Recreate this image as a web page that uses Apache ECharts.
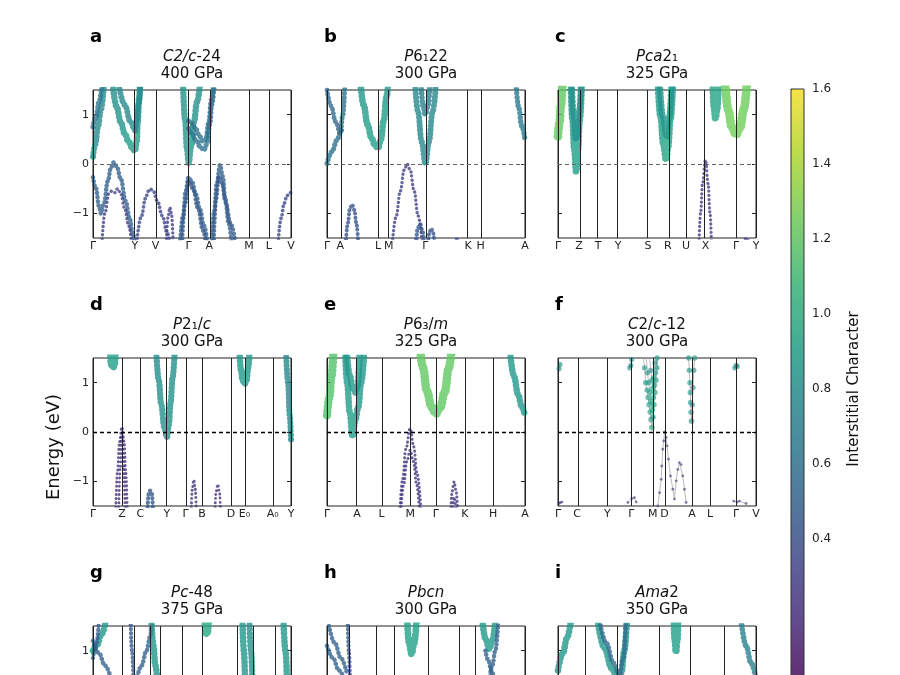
<!DOCTYPE html>
<html>
<head>
<meta charset="utf-8">
<script src="https://cdn.jsdelivr.net/npm/echarts@6/dist/echarts.min.js"></script>
<style>
  html, body { margin: 0; padding: 0; background: #fff; }
  #main { width: 900px; height: 675px; }
</style>
</head>
<body>
<div id="main"></div>
<script>
const FONT = 'DejaVu Sans'
const VIRIDIS = ['#440154', '#482878', '#3e4989', '#31688e', '#26828e', '#1f9e89', '#35b779', '#6ece58', '#b5de2b', '#fde725']
const CB_MIN = 0
const CB_MAX = 1.6
const CB_TICKS = [0.4, 0.6, 0.8, 1.0, 1.2, 1.4, 1.6]
const Y_TICKS = [-1, 0, 1]
const MARK_ALPHA = 0.8

// panel headings
const LETTERS = ['a', 'b', 'c', 'd', 'e', 'f', 'g', 'h', 'i']
const SPACE_GROUPS = [
  '{i|C2/c}{n|-24}', '{i|P}{n|6₁22}', '{i|Pca}{n|2₁}',
  '{i|P}{n|2₁/}{i|c}', '{i|P}{n|6₃/}{i|m}', '{i|C}{n|2/}{i|c}{n|-12}',
  '{i|Pc}{n|-48}', '{i|Pbcn}', '{i|Ama}{n|2}'
]
const PRESSURES = ['400 GPa', '300 GPa', '325 GPa', '300 GPa', '325 GPa', '300 GPa', '375 GPa', '300 GPa', '350 GPa']

// high-symmetry points (fraction of the k-path) and their labels
const KPOS_A = [0, 0.212, 0.316, 0.483, 0.587, 0.788, 0.888, 1]
const KLAB_A = ['Γ', 'Y', 'V', 'Γ', 'A', 'M', 'L', 'V']
const KPOS_B = [0, 0.067, 0.258, 0.312, 0.497, 0.713, 0.776, 1]
const KLAB_B = ['Γ', 'A', 'L', 'M', 'Γ', 'K', 'H', 'A']
const KPOS_C = [0, 0.106, 0.202, 0.303, 0.454, 0.555, 0.647, 0.745, 0.899, 1]
const KLAB_C = ['Γ', 'Z', 'T', 'Y', 'S', 'R', 'U', 'X', 'Γ', 'Y']
const KPOS_D = [0, 0.146, 0.239, 0.373, 0.467, 0.551, 0.697, 0.765, 0.908, 1]
const KLAB_D = ['Γ', 'Z', 'C', 'Y', 'Γ', 'B', 'D', 'E₀', 'A₀', 'Y']
const KPOS_E = [0, 0.151, 0.276, 0.42, 0.55, 0.696, 0.839, 1]
const KLAB_E = ['Γ', 'A', 'L', 'M', 'Γ', 'K', 'H', 'A']
const KPOS_F = [0, 0.096, 0.249, 0.37, 0.479, 0.538, 0.677, 0.768, 0.899, 1]
const KLAB_F = ['Γ', 'C', 'Y', 'Γ', 'M', 'D', 'A', 'L', 'Γ', 'V']
const KPOS_G = [0, 0.153, 0.213, 0.292, 0.344, 0.449, 0.546, 0.735, 0.809, 0.921, 1]
const KLAB_G = ['', '', '', '', '', '', '', '', '', '', '']
const KPOS_H = [0, 0.112, 0.247, 0.337, 0.512, 0.67, 0.753, 1]
const KLAB_H = ['', '', '', '', '', '', '', '']
const KPOS_I = [0, 0.135, 0.303, 0.506, 0.674, 0.843, 1]
const KLAB_I = ['', '', '', '', '', '', '']

// bands: [k, energy (eV), interstitial character]
const BANDS_A = [
  [[0, 0.15, 0.8], [0.012, 0.4, 0.8], [0.025, 0.75, 0.75], [0.04, 1.1, 0.75], [0.055, 1.6, 0.75]],
  [[0, 0.75, 0.6], [0.015, 0.95, 0.6], [0.03, 1.25, 0.65], [0.045, 1.6, 0.65]],
  [[0.1, 1.6, 0.8], [0.12, 1.15, 0.8], [0.14, 0.85, 0.82], [0.16, 0.62, 0.85], [0.18, 0.45, 0.88], [0.2, 0.31, 0.9], [0.212, 0.26, 0.9], [0.22, 0.45, 0.85], [0.226, 0.85, 0.8], [0.232, 1.3, 0.8], [0.237, 1.6, 0.8]],
  [[0.13, 1.6, 0.75], [0.16, 1.2, 0.75], [0.19, 0.85, 0.75], [0.212, 0.68, 0.75], [0.222, 0.9, 0.75], [0.23, 1.2, 0.75], [0.24, 1.6, 0.75]],
  [[0, -0.27, 0.5], [0.015, -0.5, 0.5], [0.03, -0.85, 0.5], [0.04, -1.0, 0.5], [0.055, -0.8, 0.5], [0.075, -0.35, 0.5], [0.09, -0.08, 0.5], [0.104, 0.03, 0.5], [0.12, -0.05, 0.5], [0.14, -0.3, 0.5], [0.165, -0.75, 0.5], [0.185, -1.1, 0.5], [0.2, -1.4, 0.5], [0.21, -1.6, 0.5]],
  [[0.045, -1.6, 0.3], [0.06, -1.0, 0.3], [0.08, -0.6, 0.3], [0.095, -0.55, 0.3], [0.11, -0.58, 0.3], [0.125, -0.5, 0.3], [0.14, -0.6, 0.3], [0.16, -0.9, 0.3], [0.18, -1.25, 0.3], [0.195, -1.6, 0.3]],
  [[0.22, -1.6, 0.35], [0.245, -1.05, 0.35], [0.265, -0.7, 0.35], [0.28, -0.55, 0.35], [0.29, -0.51, 0.35], [0.305, -0.55, 0.35], [0.325, -0.75, 0.35], [0.35, -1.05, 0.35], [0.375, -1.4, 0.35], [0.39, -1.6, 0.35]],
  [[0.37, -1.6, 0.3], [0.38, -1.05, 0.3], [0.388, -0.88, 0.3], [0.396, -1.0, 0.3], [0.405, -1.6, 0.3]],
  [[0.44, -1.6, 0.5], [0.455, -1.05, 0.5], [0.468, -0.55, 0.5], [0.483, -0.27, 0.5], [0.5, -0.36, 0.5], [0.52, -0.62, 0.5], [0.54, -0.92, 0.5], [0.56, -1.25, 0.5], [0.578, -1.6, 0.5]],
  [[0.45, -1.6, 0.45], [0.465, -0.8, 0.45], [0.483, -0.35, 0.45], [0.505, -0.5, 0.45], [0.53, -0.9, 0.45], [0.555, -1.35, 0.45], [0.57, -1.6, 0.45]],
  [[0.455, 1.6, 0.8], [0.465, 0.9, 0.8], [0.475, 0.3, 0.85], [0.483, 0.02, 0.9], [0.495, 0.35, 0.85], [0.51, 0.85, 0.8], [0.525, 1.25, 0.8], [0.54, 1.6, 0.8]],
  [[0.483, 0.87, 0.6], [0.5, 0.82, 0.6], [0.52, 0.7, 0.6], [0.54, 0.55, 0.6], [0.555, 0.45, 0.6], [0.57, 0.5, 0.6], [0.585, 0.85, 0.6], [0.598, 1.3, 0.6], [0.608, 1.6, 0.6]],
  [[0.483, 0.72, 0.6], [0.5, 0.62, 0.6], [0.52, 0.48, 0.6], [0.545, 0.33, 0.6], [0.56, 0.28, 0.6], [0.575, 0.4, 0.6], [0.59, 0.8, 0.6], [0.6, 1.2, 0.6], [0.612, 1.6, 0.6]],
  [[0.6, -1.6, 0.5], [0.612, -0.95, 0.5], [0.625, -0.4, 0.5], [0.642, -0.02, 0.5], [0.655, -0.25, 0.5], [0.668, -0.7, 0.5], [0.685, -1.2, 0.5], [0.7, -1.6, 0.5]],
  [[0.61, -1.6, 0.45], [0.622, -0.7, 0.45], [0.635, -0.25, 0.45], [0.65, -0.38, 0.45], [0.67, -0.78, 0.45], [0.695, -1.2, 0.45], [0.72, -1.6, 0.45]],
  [[0.935, -1.6, 0.35], [0.95, -1.1, 0.35], [0.965, -0.8, 0.35], [0.98, -0.64, 0.35], [1.0, -0.57, 0.35]]
]
const BANDS_B = [
  [[0, 1.5, 0.55], [0.02, 1.18, 0.55], [0.045, 0.85, 0.55], [0.067, 0.62, 0.55], [0.075, 0.7, 0.55]],
  [[0, 0.01, 0.65], [0.025, 0.25, 0.6], [0.05, 0.48, 0.6], [0.067, 0.62, 0.6], [0.08, 1.0, 0.6], [0.09, 1.6, 0.6]],
  [[0.168, 1.7, 0.85], [0.185, 1.2, 0.85], [0.205, 0.8, 0.87], [0.225, 0.52, 0.9], [0.243, 0.37, 0.9], [0.258, 0.32, 0.9], [0.272, 0.5, 0.88], [0.287, 0.9, 0.85], [0.3, 1.35, 0.85], [0.31, 1.7, 0.85]],
  [[0.33, -1.6, 0.3], [0.35, -1.05, 0.3], [0.37, -0.55, 0.3], [0.39, -0.12, 0.3], [0.405, 0.0, 0.3], [0.42, -0.12, 0.3], [0.44, -0.55, 0.3], [0.46, -1.05, 0.3], [0.48, -1.6, 0.3]],
  [[0.095, -1.6, 0.42], [0.105, -1.2, 0.42], [0.115, -0.92, 0.42], [0.126, -0.82, 0.42], [0.138, -0.93, 0.42], [0.148, -1.2, 0.42], [0.158, -1.6, 0.42]],
  [[0.445, 1.6, 0.75], [0.46, 1.05, 0.75], [0.478, 0.45, 0.75], [0.497, 0.0, 0.78], [0.515, 0.45, 0.75], [0.533, 1.05, 0.75], [0.55, 1.6, 0.75]],
  [[0.475, 1.6, 0.7], [0.487, 1.15, 0.7], [0.497, 1.0, 0.7], [0.507, 1.15, 0.7], [0.52, 1.6, 0.7]],
  [[0.45, -1.6, 0.45], [0.458, -1.3, 0.45], [0.47, -1.22, 0.45], [0.482, -1.35, 0.45], [0.49, -1.6, 0.45]],
  [[0.51, -1.6, 0.42], [0.518, -1.38, 0.42], [0.526, -1.31, 0.42], [0.535, -1.38, 0.42], [0.543, -1.6, 0.42]],
  [[0.645, -1.6, 0.35], [0.658, -1.52, 0.35], [0.672, -1.6, 0.35]],
  [[0.955, 1.6, 0.65], [0.968, 1.15, 0.65], [0.983, 0.78, 0.65], [1.0, 0.49, 0.65]]
]
const BANDS_C = [
  [[0, 0.56, 1.2], [0.008, 0.85, 1.2], [0.015, 1.2, 1.2], [0.022, 1.6, 1.2]],
  [[0.065, 1.6, 0.85], [0.073, 0.9, 0.85], [0.082, 0.3, 0.88], [0.092, -0.16, 0.9], [0.1, 0.25, 0.88], [0.11, 0.9, 0.85], [0.12, 1.6, 0.85]],
  [[0.07, 1.6, 0.8], [0.08, 0.95, 0.8], [0.09, 0.5, 0.82], [0.1, 0.6, 0.8], [0.108, 1.1, 0.8], [0.116, 1.6, 0.8]],
  [[0.505, 1.6, 0.85], [0.518, 0.95, 0.87], [0.532, 0.4, 0.9], [0.546, 0.08, 0.95], [0.556, 0.35, 0.92], [0.568, 0.9, 0.88], [0.58, 1.6, 0.85]],
  [[0.515, 1.6, 0.8], [0.53, 0.95, 0.82], [0.548, 0.55, 0.85], [0.562, 0.95, 0.82], [0.573, 1.6, 0.8]],
  [[0.782, 1.6, 0.92], [0.788, 1.15, 0.92], [0.795, 0.92, 0.95], [0.803, 1.1, 0.92], [0.81, 1.6, 0.92]],
  [[0.845, 1.6, 1.22], [0.86, 1.1, 1.22], [0.878, 0.75, 1.25], [0.899, 0.59, 1.25], [0.92, 0.75, 1.25], [0.938, 1.1, 1.22], [0.953, 1.6, 1.22]],
  [[0.712, -1.6, 0.28], [0.72, -1.0, 0.28], [0.73, -0.4, 0.28], [0.745, 0.08, 0.28], [0.758, -0.4, 0.28], [0.768, -1.0, 0.28], [0.775, -1.6, 0.28]],
  [[0.94, -1.6, 0.3], [0.952, -1.5, 0.3], [0.964, -1.6, 0.3]]
]
const BANDS_D = [
  [[0.087, 1.6, 0.9], [0.092, 1.36, 0.9], [0.1, 1.3, 0.9], [0.108, 1.34, 0.9], [0.113, 1.6, 0.9]],
  [[0.115, -1.6, 0.25], [0.124, -0.8, 0.25], [0.134, -0.2, 0.25], [0.146, 0.1, 0.25], [0.157, -0.2, 0.25], [0.165, -0.8, 0.25], [0.173, -1.6, 0.25]],
  [[0.13, -1.6, 0.22], [0.138, -0.7, 0.22], [0.146, -0.02, 0.22], [0.154, -0.7, 0.22], [0.162, -1.6, 0.22]],
  [[0.275, -1.6, 0.45], [0.281, -1.25, 0.45], [0.289, -1.19, 0.45], [0.297, -1.25, 0.45], [0.303, -1.6, 0.45]],
  [[0.32, 1.6, 0.78], [0.332, 1.05, 0.78], [0.345, 0.55, 0.8], [0.36, 0.1, 0.82], [0.373, -0.11, 0.85], [0.383, 0.15, 0.82], [0.392, 0.6, 0.8], [0.402, 1.1, 0.78], [0.412, 1.6, 0.78]],
  [[0.496, -1.6, 0.25], [0.502, -1.15, 0.25], [0.509, -0.97, 0.25], [0.516, -1.15, 0.25], [0.522, -1.6, 0.25]],
  [[0.616, -1.6, 0.22], [0.622, -1.2, 0.22], [0.63, -1.06, 0.22], [0.638, -1.2, 0.22], [0.644, -1.6, 0.22]],
  [[0.74, 1.6, 0.85], [0.748, 1.25, 0.85], [0.756, 1.04, 0.85], [0.765, 0.97, 0.88], [0.775, 1.05, 0.85], [0.783, 1.3, 0.85], [0.79, 1.6, 0.85]],
  [[0.975, 1.6, 0.75], [0.985, 1.0, 0.75], [0.993, 0.35, 0.75], [1.0, -0.15, 0.75]]
]
const BANDS_E = [
  [[0, 0.34, 1.15], [0.012, 0.7, 1.15], [0.022, 1.1, 1.15], [0.032, 1.6, 1.15]],
  [[0.092, 1.6, 0.85], [0.102, 1.0, 0.85], [0.115, 0.4, 0.87], [0.129, -0.09, 0.9], [0.143, 0.25, 0.87], [0.158, 0.51, 0.85], [0.172, 1.0, 0.85], [0.188, 1.6, 0.85]],
  [[0.1, 1.6, 0.85], [0.115, 1.15, 0.85], [0.13, 0.88, 0.85], [0.145, 0.8, 0.85], [0.155, 0.95, 0.85], [0.165, 1.6, 0.85]],
  [[0.47, 1.7, 1.2], [0.485, 1.3, 1.2], [0.505, 0.82, 1.2], [0.528, 0.5, 1.2], [0.55, 0.37, 1.2], [0.572, 0.5, 1.2], [0.595, 0.82, 1.2], [0.615, 1.3, 1.2], [0.63, 1.7, 1.2]],
  [[0.925, 1.6, 0.85], [0.945, 1.12, 0.85], [0.965, 0.76, 0.85], [0.985, 0.5, 0.85], [1.0, 0.33, 0.85]],
  [[0.368, -1.6, 0.25], [0.382, -0.95, 0.25], [0.398, -0.35, 0.25], [0.42, 0.07, 0.25], [0.438, -0.3, 0.25], [0.455, -0.85, 0.25], [0.475, -1.6, 0.25]],
  [[0.373, -1.6, 0.25], [0.388, -1.05, 0.25], [0.403, -0.6, 0.25], [0.42, -0.37, 0.25], [0.437, -0.6, 0.25], [0.452, -1.05, 0.25], [0.467, -1.6, 0.25]],
  [[0.625, -1.6, 0.25], [0.632, -1.2, 0.25], [0.642, -1.01, 0.25], [0.652, -1.2, 0.25], [0.66, -1.6, 0.25]],
  [[0.633, -1.6, 0.25], [0.642, -1.32, 0.25], [0.651, -1.6, 0.25]]
]
// panel f is drawn as single points joined by thin grey lines
const BANDS_F = [
  [[0.43, 1.55, 0.85], [0.437, 1.3, 0.85], [0.443, 1.0, 0.88], [0.45, 0.85, 0.85], [0.455, 0.7, 0.88], [0.46, 0.55, 0.9], [0.466, 0.4, 0.9], [0.47, 0.25, 0.92], [0.474, 0.09, 0.95], [0.48, 0.3, 0.9], [0.485, 0.55, 0.9], [0.49, 0.8, 0.88], [0.495, 1.05, 0.88], [0.5, 1.3, 0.85], [0.506, 1.55, 0.85]],
  [[0.445, 1.55, 0.85], [0.452, 1.2, 0.85], [0.458, 1.0, 0.88], [0.465, 0.8, 0.9], [0.47, 0.62, 0.9], [0.476, 0.45, 0.92], [0.482, 0.7, 0.9], [0.487, 0.95, 0.88], [0.493, 1.2, 0.85], [0.5, 1.5, 0.85]],
  [[0.462, 1.55, 0.85], [0.468, 1.25, 0.85], [0.474, 1.05, 0.88], [0.478, 0.88, 0.9], [0.483, 1.1, 0.88], [0.49, 1.4, 0.85], [0.505, 1.52, 0.85], [0.515, 1.55, 0.85]],
  [[0.504, -1.5, 0.3], [0.513, -1.23, 0.3], [0.521, -0.96, 0.3], [0.524, -0.69, 0.3], [0.529, -0.35, 0.3], [0.534, -0.18, 0.3], [0.538, 0.0, 0.3], [0.546, -0.11, 0.3], [0.551, -0.28, 0.3], [0.558, -0.55, 0.3], [0.568, -0.89, 0.3], [0.58, -1.16, 0.3], [0.588, -1.36, 0.3], [0.597, -0.99, 0.3], [0.605, -0.76, 0.3], [0.613, -0.62, 0.3], [0.622, -0.66, 0.3], [0.63, -0.89, 0.3], [0.639, -1.16, 0.3], [0.647, -1.43, 0.3]],
  [[0.66, 1.5, 0.85], [0.663, 1.25, 0.85], [0.666, 1.0, 0.85], [0.668, 0.8, 0.85], [0.67, 0.6, 0.88], [0.672, 0.4, 0.9], [0.674, 0.22, 0.9], [0.678, 0.55, 0.88], [0.682, 0.9, 0.85], [0.686, 1.25, 0.85], [0.69, 1.5, 0.85]],
  [[0.005, 1.28, 0.8], [0.01, 1.37, 0.8]],
  [[0.362, 1.3, 0.8], [0.368, 1.35, 0.8], [0.372, 1.47, 0.8]],
  [[0.893, 1.3, 0.8], [0.9, 1.35, 0.8], [0.905, 1.33, 0.8]],
  [[0.005, -1.45, 0.3], [0.012, -1.43, 0.3], [0.02, -1.42, 0.3]],
  [[0.353, -1.43, 0.3], [0.373, -1.35, 0.3], [0.386, -1.33, 0.3], [0.395, -1.42, 0.3]],
  [[0.887, -1.4, 0.3], [0.904, -1.42, 0.3], [0.916, -1.4, 0.3], [0.95, -1.45, 0.3]]
]
const BANDS_G = [
  [[0, 1.0, 0.85], [0.02, 1.12, 0.85], [0.045, 1.35, 0.85], [0.065, 1.6, 0.85]],
  [[0, 1.2, 0.5], [0.03, 0.95, 0.5], [0.06, 0.7, 0.5], [0.09, 0.45, 0.5]],
  [[0, 0.85, 0.45], [0.015, 1.1, 0.45], [0.03, 1.6, 0.45]],
  [[0.19, 1.6, 0.45], [0.197, 1.0, 0.45], [0.205, 0.4, 0.45]],
  [[0.22, 0.4, 0.5], [0.245, 0.7, 0.5], [0.27, 1.0, 0.5], [0.29, 1.3, 0.5], [0.3, 1.6, 0.5]],
  [[0.295, 1.6, 0.85], [0.305, 1.1, 0.85], [0.315, 0.7, 0.85], [0.325, 0.4, 0.85]],
  [[0.565, 1.6, 0.95], [0.569, 1.38, 0.95], [0.574, 1.33, 0.95], [0.579, 1.38, 0.95], [0.583, 1.6, 0.95]],
  [[0.755, 1.6, 0.85], [0.762, 1.0, 0.85], [0.768, 0.4, 0.85]],
  [[0.79, 1.6, 0.8], [0.798, 1.0, 0.8], [0.805, 0.4, 0.8]],
  [[0.962, 1.6, 0.85], [0.972, 1.0, 0.85], [0.98, 0.4, 0.85]]
]
const BANDS_H = [
  [[0, 1.1, 0.5], [0.03, 0.85, 0.5], [0.06, 0.6, 0.5], [0.09, 0.4, 0.5]],
  [[0.01, 1.5, 0.5], [0.04, 1.15, 0.5], [0.07, 0.85, 0.5], [0.1, 0.55, 0.5]],
  [[0.105, 1.6, 0.45], [0.11, 1.0, 0.45], [0.116, 0.4, 0.45]],
  [[0.405, 1.6, 0.9], [0.415, 1.15, 0.9], [0.427, 0.93, 0.92], [0.44, 1.15, 0.9], [0.452, 1.6, 0.9]],
  [[0.785, 1.6, 0.85], [0.8, 1.25, 0.85], [0.82, 1.03, 0.88], [0.835, 1.2, 0.85], [0.85, 1.6, 0.85]],
  [[0.8, 1.0, 0.5], [0.815, 0.8, 0.5], [0.83, 0.6, 0.5], [0.845, 0.4, 0.5]],
  [[0.82, 0.4, 0.5], [0.835, 0.7, 0.5], [0.85, 1.0, 0.5], [0.865, 1.6, 0.5]]
]
const BANDS_I = [
  [[0, 0.6, 0.85], [0.025, 0.95, 0.85], [0.045, 1.25, 0.85], [0.065, 1.6, 0.85]],
  [[0.2, 1.6, 0.85], [0.235, 1.05, 0.85], [0.27, 0.65, 0.85], [0.3, 0.42, 0.88], [0.32, 0.55, 0.85], [0.335, 1.0, 0.85], [0.348, 1.6, 0.85]],
  [[0.21, 1.6, 0.55], [0.245, 1.15, 0.55], [0.28, 0.75, 0.55], [0.31, 0.5, 0.55], [0.33, 0.85, 0.55], [0.343, 1.6, 0.55]],
  [[0.585, 1.6, 0.9], [0.59, 1.2, 0.9], [0.596, 0.97, 0.9], [0.602, 1.2, 0.9], [0.607, 1.6, 0.9]],
  [[0.925, 1.6, 0.7], [0.95, 1.1, 0.7], [0.975, 0.75, 0.7], [1.0, 0.43, 0.7]]
]

const PANELS = [
  { kpos: KPOS_A, klab: KLAB_A, bands: BANDS_A },
  { kpos: KPOS_B, klab: KLAB_B, bands: BANDS_B },
  { kpos: KPOS_C, klab: KLAB_C, bands: BANDS_C },
  { kpos: KPOS_D, klab: KLAB_D, bands: BANDS_D },
  { kpos: KPOS_E, klab: KLAB_E, bands: BANDS_E },
  { kpos: KPOS_F, klab: KLAB_F, bands: BANDS_F },
  { kpos: KPOS_G, klab: KLAB_G, bands: BANDS_G },
  { kpos: KPOS_H, klab: KLAB_H, bands: BANDS_H },
  { kpos: KPOS_I, klab: KLAB_I, bands: BANDS_I }
]
const SPARSE_PANELS = [5]

// layout
const COL_LEFT = [93, 327, 558]
const ROW_TOP = [90, 358, 626]
const PLOT_W = 198
const PLOT_H = 148
const ZERO_LINE_STYLE = [
  { color: '#666', width: 1 },
  { color: '#000', width: 1.3 },
  { color: '#000', width: 1.3 }
]

function hexToRgb(hex) {
  const n = parseInt(hex.slice(1), 16)
  return [(n >> 16) & 255, (n >> 8) & 255, n & 255]
}

function viridis(c) {
  const t = Math.min(1, Math.max(0, (c - CB_MIN) / (CB_MAX - CB_MIN)))
  const pos = t * (VIRIDIS.length - 1)
  const i = Math.min(VIRIDIS.length - 2, Math.floor(pos))
  const f = pos - i
  const a = hexToRgb(VIRIDIS[i])
  const b = hexToRgb(VIRIDIS[i + 1])
  const rgb = a.map((v, j) => Math.round(v + (b[j] - v) * f))
  return `rgba(${rgb.join(',')},${MARK_ALPHA})`
}

function bandGradient(band) {
  const k0 = band[0][0]
  const k1 = band[band.length - 1][0]
  const stops = band.map(p => ({
    offset: k1 > k0 ? (p[0] - k0) / (k1 - k0) : 0,
    color: viridis(p[2])
  }))
  return new echarts.graphic.LinearGradient(0, 0, 1, 0, stops)
}

function meanCharacter(band) {
  return band.reduce((s, p) => s + p[2], 0) / band.length
}

function minusFormat(v) {
  return v < 0 ? '−' + Math.abs(v) : String(v)
}

const chart = echarts.init(document.getElementById('main'))

const grids = []
const xAxes = []
const yAxes = []
const series = []
const titles = []
const scatterIndices = []

PANELS.forEach((panel, p) => {
  const row = Math.floor(p / 3)
  const col = p % 3
  const left = COL_LEFT[col]
  const top = ROW_TOP[row]

  grids.push({
    left, top, width: PLOT_W, height: PLOT_H, outerBoundsMode: 'none', containLabel: false,
    show: true, borderColor: '#222', borderWidth: 1, backgroundColor: 'transparent'
  })

  xAxes.push({
    gridIndex: p, type: 'value', min: 0, max: 1,
    axisLine: { show: false }, axisTick: { show: false }, splitLine: { show: false },
    axisLabel: {
      customValues: panel.kpos,
      formatter: v => {
        const i = panel.kpos.findIndex(k => Math.abs(k - v) < 1e-6)
        return i >= 0 ? panel.klab[i] : ''
      },
      fontSize: 11, fontFamily: FONT, color: '#222', margin: 3
    }
  })

  const yBase = {
    gridIndex: p, type: 'value', min: -1.5, max: 1.5,
    axisLine: { show: false }, splitLine: { show: false },
    axisTick: { inside: true, length: 4, customValues: Y_TICKS, lineStyle: { color: '#222' } }
  }
  yAxes.push(Object.assign({}, yBase, {
    position: 'left',
    axisLabel: {
      show: col === 0, customValues: Y_TICKS, formatter: minusFormat,
      fontSize: 11, fontFamily: FONT, color: '#222', margin: 4
    }
  }))
  yAxes.push(Object.assign({}, yBase, { position: 'right', axisLabel: { show: false } }))

  // high-symmetry verticals and Fermi level
  series.push({
    type: 'line', xAxisIndex: p, yAxisIndex: 2 * p, data: [], silent: true, animation: false,
    markLine: {
      silent: true, animation: false, symbol: ['none', 'none'], label: { show: false },
      data: panel.kpos.map(k => ({ xAxis: k, lineStyle: { color: '#222', width: 1, type: 'solid' } }))
        .concat([{ yAxis: 0, lineStyle: Object.assign({ type: [4, 3] }, ZERO_LINE_STYLE[row]) }])
    }
  })

  panel.bands.forEach(band => {
    if (SPARSE_PANELS.includes(p)) {
      series.push({
        type: 'line', xAxisIndex: p, yAxisIndex: 2 * p, data: band, symbol: 'none',
        silent: true, animation: false, z: 3,
        lineStyle: { color: '#aaa', width: 0.8 }
      })
      scatterIndices.push(series.length)
      series.push({
        type: 'scatter', xAxisIndex: p, yAxisIndex: 2 * p, data: band,
        symbolSize: d => 1.5 + 4.5 * d[2], silent: true, animation: false, z: 4
      })
    } else {
      const w = 1.5 + 6 * meanCharacter(band)
      series.push({
        type: 'line', xAxisIndex: p, yAxisIndex: 2 * p, data: band,
        symbol: 'none', showSymbol: false, smooth: 0.4, smoothMonotone: 'x',
        silent: true, animation: false, z: 3,
        lineStyle: { color: bandGradient(band), width: w, type: [0.1, 4], cap: 'round' }
      })
    }
  })

  titles.push({
    text: LETTERS[p], left: left - 3, top: top - 62, padding: 0,
    textStyle: { fontSize: 18, fontWeight: 'bold', fontFamily: FONT, color: '#000' }
  })
  titles.push({
    text: SPACE_GROUPS[p] + '\n{n|' + PRESSURES[p] + '}',
    left: left + PLOT_W / 2, top: top - 41, padding: 0, textAlign: 'center',
    textStyle: {
      fontWeight: 'normal',
      rich: {
        i: { fontSize: 15, fontStyle: 'italic', fontWeight: 'normal', fontFamily: FONT, color: '#111', lineHeight: 17 },
        n: { fontSize: 15, fontWeight: 'normal', fontFamily: FONT, color: '#111', lineHeight: 17 }
      }
    }
  })
})

// colorbar axis
grids.push({
  left: 791, top: 89, width: 13, height: 600, outerBoundsMode: 'none', containLabel: false,
  show: true, borderColor: '#333', borderWidth: 1, backgroundColor: 'transparent', z: 10
})
xAxes.push({ gridIndex: 9, type: 'value', show: false })
yAxes.push({
  gridIndex: 9, type: 'value', position: 'right', min: CB_MIN, max: CB_MAX,
  axisLine: { show: false }, splitLine: { show: false },
  axisTick: { customValues: CB_TICKS, length: 4, lineStyle: { color: '#222' } },
  axisLabel: { customValues: CB_TICKS, formatter: v => v.toFixed(1), fontSize: 12, fontFamily: FONT, color: '#222', margin: 8 },
  name: 'Interstitial Character', nameLocation: 'middle', nameRotate: 90, nameGap: 43,
  nameTextStyle: { fontSize: 15, fontFamily: FONT, color: '#111' }
})

chart.setOption({
  backgroundColor: '#fff',
  animation: false,
  title: titles,
  grid: grids,
  xAxis: xAxes,
  yAxis: yAxes,
  visualMap: {
    type: 'continuous', min: CB_MIN, max: CB_MAX, dimension: 2, seriesIndex: scatterIndices,
    left: 791, top: 89, itemWidth: 13, itemHeight: 600, padding: 0,
    calculable: false, hoverLink: false, inRange: { color: VIRIDIS, colorAlpha: MARK_ALPHA }
  },
  graphic: [{
    type: 'text', x: 54, y: 447, rotation: Math.PI / 2,
    style: { text: 'Energy (eV)', fontSize: 18, fontFamily: FONT, fill: '#111', align: 'center', verticalAlign: 'middle' }
  }],
  series
})
</script>
</body>
</html>
